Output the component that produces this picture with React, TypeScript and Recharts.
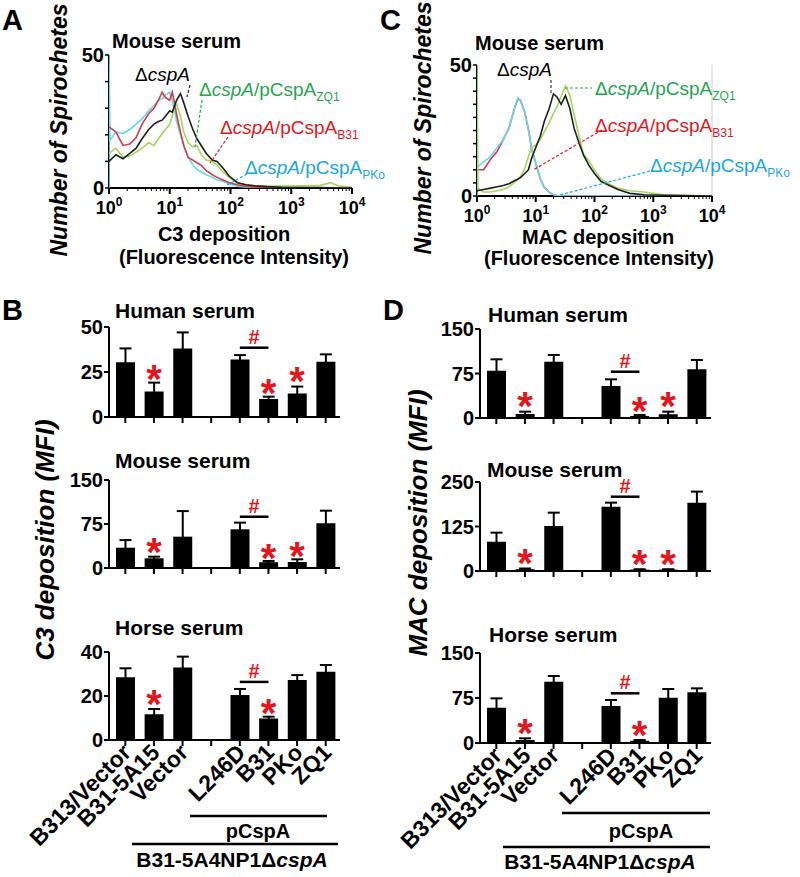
import React from 'react';
import {
  Bar,
  ComposedChart,
  ErrorBar,
  Label,
  Line,
  LineChart,
  ReferenceLine,
  Scatter,
  XAxis,
  YAxis,
} from 'recharts';

const FONT = '"Liberation Sans", Arial, Helvetica, sans-serif';
const PAGE_W = 800;
const PAGE_H = 877;
const RED = '#e3161d';

// ---------- A: C3 deposition histogram (mouse serum) ----------
const c3Channel = [1, 1.3, 1.7, 2.2, 2.8, 3.5, 4.5, 5.5, 6.5, 7.5, 8.5, 10, 11, 12, 13, 15, 17, 20, 24, 28, 33, 40, 50, 60, 75, 95, 130, 180, 250, 400, 700, 1500, 3000, 4500, 6000, 10000];
const c3CountDelta = [10, 12.5, 11, 13, 15, 18.5, 22, 24, 25, 25.5, 27, 29, 28.5, 31, 33, 35.5, 32, 27, 22, 18.5, 16, 13, 10.5, 10, 7.5, 4.5, 2, 1.2, 0.8, 0.5, 0.3, 0.2, 0.2, 0.1, 0, 0];
const c3CountB31 = [23, 21, 16, 16.5, 19, 24, 28, 30, 33, 36, 34, 33, 36, 32, 27.5, 21, 16, 11.5, 10.5, 9.5, 8.5, 6.5, 5, 4, 3, 2, 1.2, 0.6, 0.3, 0.1, 0, 0, 0, 0, 0, 0];
const c3CountZQ1 = [13, 15, 11.5, 12, 13.5, 15, 17, 16, 18.5, 20.5, 22, 24, 27, 30.5, 31.5, 27, 21, 17, 15.5, 16, 12.5, 10.5, 10, 8.5, 6, 4, 2, 1.2, 0.8, 0.7, 0.7, 0.8, 1, 2, 0.8, 0.3];
const c3ChannelPKo = [1, 1, 1.04, 1.3, 1.7, 2.2, 2.8, 3.5, 4.5, 5.5, 6.5, 7.5, 8.5, 10, 11, 12, 13, 15, 17, 20, 24, 28, 33, 40, 50, 60, 75, 95, 130, 180, 250, 400, 10000];
const c3CountPKo = [0, 50, 18, 21, 20.5, 22, 24, 26, 29, 31, 33, 33.5, 35, 36, 33, 29, 25, 20, 16, 12, 8.5, 7, 6, 5, 4, 3, 2.5, 1.5, 0.7, 0.3, 0.1, 0, 0];

// ---------- C: MAC deposition histogram (mouse serum) ----------
const macChannel = [1, 1.3, 1.7, 2.2, 2.8, 3.5, 4.5, 5, 5.5, 6.5, 7.5, 8.5, 10, 12, 14, 17, 20, 23, 27, 32, 38, 45, 55, 65, 80, 100, 130, 180, 250, 400, 700, 1500, 3000, 10000];
const macCountDelta = [2, 2.5, 3, 3.5, 4, 4.7, 6, 6.5, 7, 8.6, 10, 14.4, 18.5, 23, 28.5, 33.5, 39, 37.8, 35, 38.3, 33.5, 25.8, 20, 15.6, 11.8, 8.6, 5.5, 4, 2.5, 1, 0.5, 0.3, 0.2, 0];
const macCountB31 = [10, 10, 14, 17, 21.5, 26, 34.5, 37, 36.5, 32, 25.5, 18, 12.5, 6.5, 3.2, 1.4, 0.5, 0.2, 0, 0, 0, 0, 0, 0, 0, 0, 0, 0, 0, 0, 0, 0, 0, 0];
const macCountPKo = [11, 13, 15, 18.5, 21.5, 26, 34.5, 37.5, 36.5, 32, 25.5, 18, 12.5, 6.5, 3.2, 1.4, 0.5, 0.2, 0.1, 0, 0, 0, 0, 0, 0, 0, 0, 0, 0, 0, 0, 0, 0, 0];
const macChannelZQ1 = [1, 1, 1.04, 1.3, 1.7, 2.2, 2.8, 3.5, 4.5, 5, 5.5, 6.5, 7.5, 8.5, 10, 12, 14, 17, 20, 23, 27, 32, 38, 45, 55, 65, 80, 100, 130, 180, 250, 400, 700, 1500, 3000, 10000];
const macCountZQ1 = [0, 50, 3, 1.5, 1.5, 2, 2.5, 3.5, 5.5, 6.5, 7.5, 10.5, 15, 18.5, 19.5, 21.5, 24.5, 28, 31.5, 34, 38, 42, 38.5, 31, 22.5, 16, 13.5, 10, 6.5, 4.5, 3, 2, 1.5, 0.5, 0.3, 0];

const logTicks = [1, 2, 3, 4, 5, 6, 7, 8, 9, 10, 20, 30, 40, 50, 60, 70, 80, 90, 100, 200, 300, 400, 500, 600, 700, 800, 900, 1000, 2000, 3000, 4000, 5000, 6000, 7000, 8000, 9000, 10000];
const decades = [1, 10, 100, 1000, 10000];
const decadeExp = ['0', '1', '2', '3', '4'];
const countTicksA = [0, 10, 20, 30, 40, 50];
const countTicksC = [0, 5, 10, 15, 20, 25, 30, 35, 40, 45, 50];
const countLabels = [0, 50];

// ---------- B / D: bar charts ----------
const strains = ['B313/Vector', 'B31-5A15', 'Vector', '', 'L246D', 'B31', 'PKo', 'ZQ1'];

const c3HumanMfi = [30.4, 14.1, 38.1, null, 32, 10, 13.1, 30.7];
const c3HumanSem = [7.7, 5, 8.9, null, 2.4, 1.3, 3.8, 4.1];
const c3HumanStar = [null, 24.3, null, null, null, 16.8, 23.3, null];
const c3HumanHash = 38.5;

const c3MouseMfi = [34.6, 16.5, 53.4, null, 66, 9.7, 10.2, 76.1];
const c3MouseSem = [13, 2.8, 43.6, null, 11.3, 2.3, 4.6, 21.6];
const c3MouseStar = [null, 37.5, null, null, null, 27.8, 30.7, null];
const c3MouseHash = 87.4;

const c3HorseMfi = [28.5, 11.7, 33, null, 20.5, 9.8, 27.3, 31];
const c3HorseSem = [4.1, 2.4, 4.9, null, 2.7, 0.8, 2.2, 3.1];
const c3HorseStar = [null, 19, null, null, null, 14.9, null, null];
const c3HorseHash = 26.4;

const macHumanMfi = [79.8, 6.7, 95, null, 53.9, 3.4, 6.2, 82];
const macHumanSem = [19.1, 4, 11.2, null, 11.3, 1.6, 4.5, 15.8];
const macHumanStar = [null, 30.3, null, null, null, 21.9, 30.3, null];
const macHumanHash = 78;

const macMouseMfi = [82.4, 5, 126.4, null, 180.7, 4, 4, 192];
const macMouseSem = [25.3, 2, 37.5, null, 11.3, 1, 1, 31];
const macMouseStar = [null, 38.5, null, null, null, 35.7, 35.7, null];
const macMouseHash = 208.7;

const macHorseMfi = [58.9, 5, 102.2, null, 61.7, 3.9, 75.6, 84.4];
const macHorseSem = [15.5, 2.8, 9.5, null, 10, 1.1, 14.4, 6.7];
const macHorseStar = [null, 26, null, null, null, 23, null, null];
const macHorseHash = 82.8;

const barPanels = [
  { key: 'c3h', title: 'Human serum', mfi: c3HumanMfi, sem: c3HumanSem, star: c3HumanStar, hash: c3HumanHash, ticks: [0, 25, 50], box: [109, 327, 340, 417], titleAt: [115, 318], labelled: false },
  { key: 'c3m', title: 'Mouse serum', mfi: c3MouseMfi, sem: c3MouseSem, star: c3MouseStar, hash: c3MouseHash, ticks: [0, 75, 150], box: [109, 480, 340, 568], titleAt: [115, 468], labelled: false },
  { key: 'c3e', title: 'Horse serum', mfi: c3HorseMfi, sem: c3HorseSem, star: c3HorseStar, hash: c3HorseHash, ticks: [0, 20, 40], box: [109, 652, 340, 740], titleAt: [115, 635], labelled: true },
  { key: 'mh', title: 'Human serum', mfi: macHumanMfi, sem: macHumanSem, star: macHumanStar, hash: macHumanHash, ticks: [0, 75, 150], box: [480, 329, 711, 418], titleAt: [488, 322], labelled: false },
  { key: 'mm', title: 'Mouse serum', mfi: macMouseMfi, sem: macMouseSem, star: macMouseStar, hash: macMouseHash, ticks: [0, 125, 250], box: [480, 482, 711, 571], titleAt: [487, 477], labelled: false },
  { key: 'me', title: 'Horse serum', mfi: macHorseMfi, sem: macHorseSem, star: macHorseStar, hash: macHorseHash, ticks: [0, 75, 150], box: [480, 653, 711, 743], titleAt: [489, 642], labelled: true },
];

const axisLine = { stroke: '#000', strokeWidth: 2 };

function ValueTick({ x, y, payload }: any) {
  return (
    <g>
      <line x1={x - 5} x2={x} y1={y} y2={y} stroke="#000" strokeWidth={2} />
      <text x={x - 6} y={y} dy={7} textAnchor="end" fontSize={20} fontWeight="bold" fontFamily={FONT} fill="#000">
        {payload.value}
      </text>
    </g>
  );
}

function StrainTick({ x, y, payload, labelled }: any) {
  const lx = x + 7;
  const ly = y + 14;
  return (
    <g>
      <line x1={x} x2={x} y1={y} y2={y + 6} stroke="#000" strokeWidth={2} />
      {labelled && payload.value ? (
        <text x={lx} y={ly} transform={`rotate(-45 ${lx} ${ly})`} textAnchor="end" fontSize={23} fontWeight="bold" fontFamily={FONT} fill="#000">
          {payload.value}
        </text>
      ) : null}
    </g>
  );
}

function StarShape(props: any) {
  const { cx, cy, payload } = props;
  if (!payload || payload.star == null || cx == null || cy == null) return <g />;
  return (
    <text x={cx} y={cy} dy={20} textAnchor="middle" fontSize={40} fontWeight="bold" fontFamily={FONT} fill={RED}>
      *
    </text>
  );
}

function BarPanel({ p }: any) {
  const rows = strains.map((name, i) => ({ name, mfi: p.mfi[i], sem: p.sem[i], star: p.star[i] }));
  const [l, t, r, b] = p.box;
  const top = p.ticks[p.ticks.length - 1];
  return (
    <div style={{ position: 'absolute', left: 0, top: 0 }}>
      <ComposedChart width={PAGE_W} height={PAGE_H} data={rows} margin={{ top: t, left: l - 1, right: PAGE_W - r, bottom: PAGE_H - b - 1 }}>
        <XAxis
          dataKey="name"
          interval={0}
          height={1}
          tickSize={0}
          tickMargin={0}
          tickLine={false}
          axisLine={axisLine}
          padding={{ left: 2, right: 0 }}
          tick={(tp: any) => <StrainTick {...tp} labelled={p.labelled} />}
        />
        <YAxis
          type="number"
          domain={[0, top]}
          ticks={p.ticks}
          interval={0}
          width={1}
          tickSize={0}
          tickMargin={0}
          tickLine={false}
          axisLine={axisLine}
          allowDataOverflow
          tick={(tp: any) => <ValueTick {...tp} />}
        />
        <Bar dataKey="mfi" fill="#000" barSize={19} isAnimationActive={false}>
          <ErrorBar dataKey="sem" width={6} strokeWidth={2} stroke="#000" direction="y" isAnimationActive={false} />
        </Bar>
        <ReferenceLine
          segment={[{ x: 'L246D', y: p.hash }, { x: 'B31', y: p.hash }]}
          stroke="#000"
          strokeWidth={2.5}
          ifOverflow="visible"
          label={<Label value="#" position="top" offset={4} fill={RED} fontSize={20} fontWeight="bold" fontFamily={FONT} />}
        />
        <Scatter dataKey="star" isAnimationActive={false} shape={StarShape} />
      </ComposedChart>
    </div>
  );
}

function LogTick({ x, y, payload }: any) {
  const k = decades.indexOf(payload.value);
  const major = k >= 0;
  return (
    <g>
      <line x1={x} x2={x} y1={y} y2={y + (major ? 6 : 3)} stroke="#000" strokeWidth={major ? 2 : 1} />
      {major ? (
        <text x={x} y={y + 26} textAnchor="middle" fontSize={18} fontWeight="bold" fontFamily={FONT} fill="#000">
          10<tspan dy={-8} fontSize={12}>{decadeExp[k]}</tspan>
        </text>
      ) : null}
    </g>
  );
}

function CountTick({ x, y, payload }: any) {
  const labelled = countLabels.includes(payload.value);
  return (
    <g>
      <line x1={x - 4} x2={x} y1={y} y2={y} stroke="#000" strokeWidth={1.5} />
      {labelled ? (
        <text x={x - 5} y={y} dy={7} textAnchor="end" fontSize={20} fontWeight="bold" fontFamily={FONT} fill="#000">
          {payload.value}
        </text>
      ) : null}
    </g>
  );
}

// axes in one chart, curves in a second chart on top (same plot box), so the
// channel-1 spike is drawn over the y axis as in the cytometer export
function HistPanel({ series, box, yTicks, frame }: any) {
  const [l, t, r, b] = box;
  return (
    <>
      <div style={{ position: 'absolute', left: 0, top: 0 }}>
        <LineChart width={PAGE_W} height={PAGE_H} margin={{ top: t, left: l - 1, right: PAGE_W - r, bottom: PAGE_H - b - 1 }}>
          <XAxis
            type="number"
            dataKey="x"
            scale="log"
            domain={[1, 10000]}
            ticks={logTicks}
            interval={0}
            allowDataOverflow
            height={1}
            tickSize={0}
            tickMargin={0}
            tickLine={false}
            axisLine={axisLine}
            tick={(tp: any) => <LogTick {...tp} />}
          />
          <YAxis
            type="number"
            domain={[0, 50]}
            ticks={yTicks}
            interval={0}
            width={1}
            tickSize={0}
            tickMargin={0}
            tickLine={false}
            axisLine={axisLine}
            allowDataOverflow
            tick={(tp: any) => <CountTick {...tp} />}
          />
          {frame ? <ReferenceLine x={10000} stroke="#c9c9c9" strokeWidth={1} /> : null}
        </LineChart>
      </div>
      <div style={{ position: 'absolute', left: 0, top: 0 }}>
        <LineChart width={PAGE_W} height={PAGE_H} margin={{ top: t, left: l, right: PAGE_W - r, bottom: PAGE_H - b }}>
          <XAxis type="number" dataKey="x" scale="log" domain={[1, 10000]} allowDataOverflow hide />
          <YAxis type="number" domain={[0, 50]} allowDataOverflow hide />
          {series.map((s: any) => (
            <Line
              key={s.key}
              data={s.xs.map((x: number, i: number) => ({ x, y: s.ys[i] }))}
              dataKey="y"
              type="linear"
              stroke={s.color}
              strokeWidth={1.6}
              dot={false}
              isAnimationActive={false}
            />
          ))}
        </LineChart>
      </div>
    </>
  );
}

const LINE = { delta: '#1e1e1e', zq1: '#a6d65e', b31: '#d8394b', pko: '#62dcec' };
const TXT = { zq1: '#1fa64f', b31: '#e3161d', pko: '#1ba6df' };

const seriesA = [
  { key: 'zq1', xs: c3Channel, ys: c3CountZQ1, color: LINE.zq1 },
  { key: 'pko', xs: c3ChannelPKo, ys: c3CountPKo, color: LINE.pko },
  { key: 'b31', xs: c3Channel, ys: c3CountB31, color: LINE.b31 },
  { key: 'delta', xs: c3Channel, ys: c3CountDelta, color: LINE.delta },
];
const seriesC = [
  { key: 'b31', xs: macChannel, ys: macCountB31, color: LINE.b31 },
  { key: 'pko', xs: macChannel, ys: macCountPKo, color: LINE.pko },
  { key: 'zq1', xs: macChannelZQ1, ys: macCountZQ1, color: LINE.zq1 },
  { key: 'delta', xs: macChannel, ys: macCountDelta, color: LINE.delta },
];

function StrainLabel({ x, y, sub, color }: any) {
  return (
    <text x={x} y={y} fill={color} fontSize={19}>
      Δ<tspan fontStyle="italic">cspA</tspan>/pCspA
      <tspan dy={5} fontSize={12}>{sub}</tspan>
    </text>
  );
}

function Dash({ x1, y1, x2, y2, color }: any) {
  return <line x1={x1} y1={y1} x2={x2} y2={y2} stroke={color} strokeWidth={1.2} strokeDasharray="3 2" />;
}

function Overlay() {
  return (
    <svg width={PAGE_W} height={PAGE_H} style={{ position: 'absolute', left: 0, top: 0 }} fontFamily={FONT}>
      {/* panel letters */}
      <text x={2} y={30} fontSize={29} fontWeight="bold">A</text>
      <text x={380} y={30} fontSize={29} fontWeight="bold">C</text>
      <text x={2} y={320} fontSize={29} fontWeight="bold">B</text>
      <text x={383} y={320} fontSize={29} fontWeight="bold">D</text>

      {/* A annotations */}
      <text x={112} y={48} fontSize={20} fontWeight="bold">Mouse serum</text>
      <text x={135} y={81} fontSize={19}>Δ<tspan fontStyle="italic">cspA</tspan></text>
      <StrainLabel x={199} y={96} sub="ZQ1" color={TXT.zq1} />
      <StrainLabel x={220} y={134} sub="B31" color={TXT.b31} />
      <StrainLabel x={245} y={174} sub="PKo" color={TXT.pko} />
      <Dash x1={190} y1={85} x2={187} y2={97} color="#222" />
      <Dash x1={202} y1={100} x2={195} y2={147} color={TXT.zq1} />
      <Dash x1={228} y1={137} x2={210} y2={163} color={TXT.b31} />
      <Dash x1={247} y1={174} x2={227} y2={185} color={TXT.pko} />
      <text transform="translate(67,130) rotate(-90)" textAnchor="middle" fontSize={23} fontWeight="bold" fontStyle="italic">
        Number of Spirochetes
      </text>
      <text x={224} y={241} textAnchor="middle" fontSize={20} fontWeight="bold">C3 deposition</text>
      <text x={234} y={264} textAnchor="middle" fontSize={20} fontWeight="bold">(Fluorescence Intensity)</text>

      {/* C annotations */}
      <text x={475} y={50} fontSize={20} fontWeight="bold">Mouse serum</text>
      <text x={497} y={76} fontSize={19}>Δ<tspan fontStyle="italic">cspA</tspan></text>
      <StrainLabel x={595} y={95} sub="ZQ1" color={TXT.zq1} />
      <StrainLabel x={595} y={132} sub="B31" color={TXT.b31} />
      <StrainLabel x={650} y={172} sub="PKo" color={TXT.pko} />
      <Dash x1={551} y1={80} x2={551} y2={93} color="#444" />
      <Dash x1={565} y1={88} x2={592} y2={88} color={TXT.zq1} />
      <Dash x1={602} y1={130} x2={533} y2={170} color={TXT.b31} />
      <Dash x1={650} y1={171} x2={560} y2={195} color={TXT.pko} />
      <text transform="translate(431,128) rotate(-90)" textAnchor="middle" fontSize={23} fontWeight="bold" fontStyle="italic">
        Number of Spirochetes
      </text>
      <text x={598} y={244} textAnchor="middle" fontSize={20} fontWeight="bold">MAC deposition</text>
      <text x={599} y={265} textAnchor="middle" fontSize={20} fontWeight="bold">(Fluorescence Intensity)</text>

      {/* bar titles */}
      {barPanels.map((p) => (
        <text key={p.key} x={p.titleAt[0]} y={p.titleAt[1]} fontSize={21} fontWeight="bold">
          {p.title}
        </text>
      ))}
      <text transform="translate(54,540) rotate(-90)" textAnchor="middle" fontSize={26} fontWeight="bold" fontStyle="italic">
        C3 deposition (MFI)
      </text>
      <text transform="translate(427,523) rotate(-90)" textAnchor="middle" fontSize={26} fontWeight="bold" fontStyle="italic">
        MAC deposition (MFI)
      </text>

      {/* B brackets */}
      <line x1={190} x2={327} y1={816} y2={816} stroke="#000" strokeWidth={2.5} />
      <text x={258} y={838} textAnchor="middle" fontSize={20} fontWeight="bold">pCspA</text>
      <line x1={132} x2={338} y1={844} y2={844} stroke="#000" strokeWidth={2.5} />
      <text x={232} y={867} textAnchor="middle" fontSize={21} fontWeight="bold">
        B31-5A4NP1Δ<tspan fontStyle="italic">cspA</tspan>
      </text>

      {/* D brackets */}
      <line x1={562} x2={710} y1={813} y2={813} stroke="#000" strokeWidth={2.5} />
      <text x={641} y={838} textAnchor="middle" fontSize={20} fontWeight="bold">pCspA</text>
      <line x1={503} x2={710} y1={847} y2={847} stroke="#000" strokeWidth={2.5} />
      <text x={600} y={869} textAnchor="middle" fontSize={21} fontWeight="bold">
        B31-5A4NP1Δ<tspan fontStyle="italic">cspA</tspan>
      </text>
    </svg>
  );
}

export default function App() {
  return (
    <div style={{ position: 'absolute', left: 0, top: 0, width: PAGE_W, height: PAGE_H, background: '#fff', fontFamily: FONT }}>
      <HistPanel series={seriesA} box={[109, 55, 352, 188]} yTicks={countTicksA} frame={false} />
      <HistPanel series={seriesC} box={[477, 65, 712, 196]} yTicks={countTicksC} frame />
      {barPanels.map((p) => (
        <BarPanel key={p.key} p={p} />
      ))}
      <Overlay />
    </div>
  );
}
